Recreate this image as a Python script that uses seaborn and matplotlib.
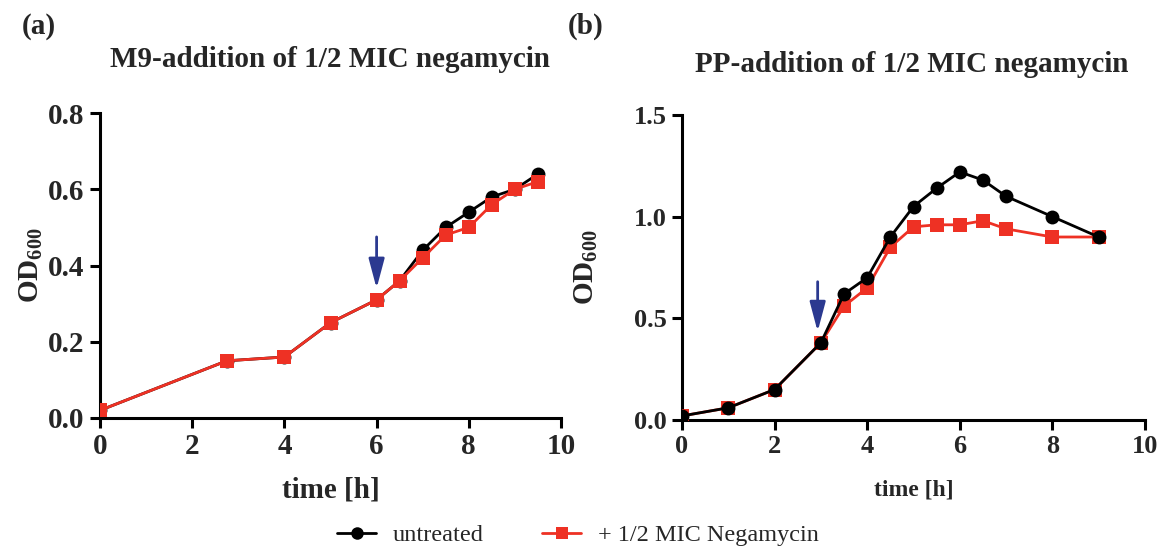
import matplotlib
matplotlib.use("Agg")
import matplotlib.pyplot as plt
import seaborn as sns
import pandas as pd
from matplotlib.lines import Line2D

sns.set_theme(style="ticks")
plt.rcParams["font.family"] = ["Liberation Serif", "DejaVu Serif"]
plt.rcParams["mathtext.fontset"] = "custom"
plt.rcParams["mathtext.rm"] = "Liberation Serif:bold"
plt.rcParams["mathtext.bf"] = "Liberation Serif:bold"
plt.rcParams["mathtext.it"] = "Liberation Serif:bold"

# M9 medium growth curves
m9_time = [0, 2.75, 4, 5, 6, 6.5, 7, 7.5, 8, 8.5, 9, 9.5]
m9_untreated = [0.02, 0.15, 0.16, 0.25, 0.31, 0.36, 0.44, 0.50, 0.54, 0.58, 0.60, 0.64]
m9_negamycin = [0.02, 0.15, 0.16, 0.25, 0.31, 0.36, 0.42, 0.48, 0.50, 0.56, 0.60, 0.62]

# PP medium growth curves
pp_time = [0, 1, 2, 3, 3.5, 4, 4.5, 5, 5.5, 6, 6.5, 7, 8, 9]
pp_untreated = [0.02, 0.06, 0.15, 0.38, 0.62, 0.70, 0.90, 1.05, 1.14, 1.22, 1.18, 1.10, 1.00, 0.90]
pp_negamycin = [0.02, 0.06, 0.15, 0.38, 0.56, 0.65, 0.85, 0.95, 0.96, 0.96, 0.98, 0.94, 0.90, 0.90]

# time of antibiotic addition
m9_addition = 6.0
pp_addition = 2.93

series_names = ["untreated", "+ 1/2 MIC Negamycin"]
BLACK = "#000000"
RED = "#EE3124"
BLUE = "#2B3990"

W, H = 1159, 548
fig = plt.figure(figsize=(W / 100, H / 100), dpi=100)
ax_a = fig.add_axes([100 / W, 1 - 418 / H, 461 / W, 305 / H])
ax_b = fig.add_axes([682 / W, 1 - 420 / H, 463 / W, 305 / H])


def draw_curve(ax, t, y, color, marker, ms, z):
    df = pd.DataFrame({"time": t, "od": y})
    sns.lineplot(data=df, x="time", y="od", ax=ax, color=color, marker=marker,
                 markersize=ms, markeredgewidth=0, linewidth=2.0, zorder=z)


def style_axes(ax, ymax, yticks, fmt, tick_fs, xlabel_fs):
    ax.set_xlim(0, 10)
    ax.set_ylim(0, ymax)
    ax.set_xticks([0, 2, 4, 6, 8, 10])
    ax.set_yticks(yticks)
    ax.set_yticklabels([fmt.format(v) for v in yticks])
    for s in ["top", "right"]:
        ax.spines[s].set_visible(False)
    for s in ["left", "bottom"]:
        ax.spines[s].set_linewidth(2.2)
        ax.spines[s].set_color("black")
    ax.tick_params(direction="out", length=7, width=2.2, color="black",
                   labelsize=tick_fs, pad=4)
    for lab in ax.get_xticklabels() + ax.get_yticklabels():
        lab.set_fontweight("bold")
    ax.set_xlabel("time [h]", fontsize=xlabel_fs, fontweight="bold")
    ax.set_ylabel(r"OD$_{\mathbf{600}}$", fontsize=21, fontweight="bold")
    ax.patch.set_alpha(0)
    ax.grid(False)


arrow_style = dict(arrowstyle="-|>,head_length=1.2,head_width=0.32",
                   color=BLUE, lw=2.0, shrinkA=0, shrinkB=0, mutation_scale=15)

# panel (a): treated curve drawn on top
draw_curve(ax_a, m9_time, m9_untreated, BLACK, "o", 10, 3)
draw_curve(ax_a, m9_time, m9_negamycin, RED, "s", 10, 4)
style_axes(ax_a, 0.8, [0.0, 0.2, 0.4, 0.6, 0.8], "{:.1f}", 21, 21)
ax_a.xaxis.labelpad = 12
ax_a.yaxis.labelpad = 2
ax_a.annotate("", xy=(m9_addition, 0.34), xytext=(m9_addition, 0.475),
              arrowprops=arrow_style, zorder=6)

# panel (b): untreated curve drawn on top
draw_curve(ax_b, pp_time, pp_negamycin, RED, "s", 10, 3)
draw_curve(ax_b, pp_time, pp_untreated, BLACK, "o", 10, 4)
style_axes(ax_b, 1.5, [0.0, 0.5, 1.0, 1.5], "{:.1f}", 19, 17)
ax_b.xaxis.labelpad = 15
ax_b.yaxis.labelpad = 24
ax_b.annotate("", xy=(pp_addition, 0.435), xytext=(pp_addition, 0.68),
              arrowprops=arrow_style, zorder=6)

for ax in (ax_a, ax_b):
    if ax.get_legend() is not None:
        ax.get_legend().remove()

# panel titles and letters
fig.text(330 / W, 1 - 67 / H, "M9-addition of 1/2 MIC negamycin", fontsize=21,
         fontweight="bold", ha="center", va="baseline")
fig.text(912 / W, 1 - 72 / H, "PP-addition of 1/2 MIC negamycin", fontsize=21,
         fontweight="bold", ha="center", va="baseline")
fig.text(22 / W, 1 - 26 / H, "(a)", fontsize=21, fontweight="bold", va="center", ha="left")
fig.text(568 / W, 1 - 26 / H, "(b)", fontsize=21, fontweight="bold", va="center", ha="left")

handles = [
    Line2D([], [], color=BLACK, marker="o", markersize=9, markeredgewidth=0, linewidth=2.0),
    Line2D([], [], color=RED, marker="s", markersize=9, markeredgewidth=0, linewidth=2.0),
]
fig.legend(handles, series_names, loc="center", bbox_to_anchor=(578 / W, 1 - 535 / H),
           ncol=2, frameon=False, fontsize=17.5, columnspacing=2.4, handlelength=1.6,
           handletextpad=0.7)

fig.savefig("out.png", dpi=100, facecolor="white")
